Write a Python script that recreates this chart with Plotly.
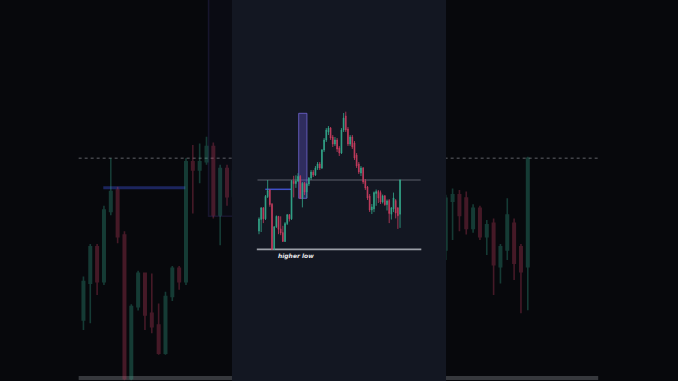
import plotly.graph_objects as go

# ---- data (candle index, OHLC in chart units) ----
idx = list(range(66))
opens = [19.0, 30.6, 42.1, 31.1, 53.2, 60.0, 45.8, 0.5, 23.2, 33.7,
         21.1, 17.4, 8.5, 26.4, 35.3, 31.1, 68.9, 66.3, 68.9, 73.7,
         52.1, 66.8, 58.0, 66.0, 72.0, 78.0, 75.0, 82.0, 86.0, 82.0,
         100.0, 110.0, 118.0, 122.0, 113.0, 106.0, 110.0, 102.0, 97.0, 120.0,
         134.0, 121.0, 106.0, 113.0, 107.0, 95.0, 86.0, 77.0, 82.0, 69.0,
         63.0, 54.0, 40.0, 41.1, 56.5, 58.5, 57.5, 47.9, 54.2, 45.3,
         49.5, 35.8, 41.1, 49.5, 42.1, 35.8]
highs = [32.7, 43.0, 43.0, 55.0, 70.0, 61.0, 47.0, 24.0, 34.5, 34.0,
         33.7, 24.2, 27.9, 36.0, 36.0, 70.0, 74.2, 74.7, 76.8, 75.0,
         68.0, 68.0, 67.0, 73.0, 80.0, 80.0, 84.0, 88.0, 88.0, 101.0,
         112.0, 122.0, 124.0, 123.0, 115.0, 113.0, 112.0, 104.0, 122.0, 137.0,
         138.3, 123.0, 115.0, 115.0, 109.0, 97.0, 88.0, 84.0, 83.0, 71.0,
         64.0, 56.0, 46.0, 58.5, 60.5, 60.0, 59.5, 55.5, 55.0, 50.5,
         51.0, 43.0, 57.4, 51.0, 43.0, 70.5]
lows = [15.8, 18.0, 26.9, 30.0, 52.0, 43.2, 0.0, 0.0, 22.0, 15.8,
        14.8, 8.0, 8.0, 25.0, 28.5, 30.0, 52.6, 62.1, 68.0, 51.0,
        42.6, 55.0, 52.0, 64.0, 70.0, 73.0, 74.0, 80.0, 80.0, 81.0,
        98.0, 108.0, 115.0, 110.0, 103.0, 104.0, 98.0, 94.0, 96.0, 118.0,
        118.0, 104.0, 104.0, 101.0, 90.0, 82.0, 76.0, 74.0, 66.0, 60.0,
        50.0, 38.0, 36.0, 37.9, 44.2, 47.0, 46.0, 46.5, 44.2, 39.5,
        26.9, 30.5, 37.9, 31.6, 21.1, 22.1]
closes = [31.1, 42.1, 31.1, 53.7, 59.5, 45.3, 0.5, 23.2, 33.7, 20.6,
          16.9, 8.5, 26.4, 35.3, 31.1, 68.9, 66.3, 68.9, 73.7, 52.1,
          66.8, 57.9, 66.0, 72.0, 78.0, 75.0, 82.0, 86.0, 82.0, 100.0,
          110.0, 120.0, 122.0, 112.0, 106.0, 110.0, 101.0, 97.0, 120.0, 132.0,
          120.0, 106.0, 113.0, 103.0, 92.0, 84.0, 78.0, 82.0, 68.0, 62.0,
          52.0, 40.0, 43.0, 57.4, 58.5, 52.0, 47.9, 54.2, 45.3, 49.0,
          36.4, 42.1, 52.1, 36.9, 34.2, 70.0]

resistance_level = 70.0
higher_low_level = 0.7
blue_level = 60.7
zone_start, zone_end = 18.3, 22.1
zone_low, zone_high = 51.7, 136.7
line_start, line_end = -0.7, 74.5
blue_start, blue_end = 2.9, 14.9
label_text = "higher low"

GREEN = "#34a88c"
RED = "#c83e60"

fig = go.Figure()

def add_candles(xa, ya, lw, op):
    fig.add_trace(go.Candlestick(
        x=idx, open=opens, high=highs, low=lows, close=closes,
        xaxis=xa, yaxis=ya, opacity=op, whiskerwidth=0,
        increasing=dict(line=dict(color=GREEN, width=lw), fillcolor=GREEN),
        decreasing=dict(line=dict(color=RED, width=lw), fillcolor=RED),
        showlegend=False, hoverinfo="skip"))

# background (zoomed, dimmed) copies
add_candles("x2", "y2", 1.6, 0.32)
add_candles("x3", "y3", 1.6, 0.32)
# main chart
add_candles("x", "y", 0.8, 1.0)

shapes = []
# centre panel
shapes.append(dict(type="rect", xref="paper", yref="paper", x0=232/678, x1=446/678,
                   y0=0, y1=1, fillcolor="#131722", line=dict(width=0), layer="below"))
# background decorations
for xa, ya in (("x2", "y2"), ("x3", "y3")):
    shapes.append(dict(type="line", xref=xa, yref=ya, x0=line_start, x1=line_end + 0.8,
                       y0=resistance_level, y1=resistance_level,
                       line=dict(color="#424348", width=1.5, dash="dot"), layer="below"))
    shapes.append(dict(type="line", xref=xa, yref=ya, x0=line_start, x1=line_end + 0.8,
                       y0=higher_low_level, y1=higher_low_level,
                       line=dict(color="#36383d", width=4), layer="below"))
    shapes.append(dict(type="line", xref=xa, yref=ya, x0=blue_start, x1=blue_end,
                       y0=blue_level, y1=blue_level,
                       line=dict(color="#1c255e", width=3), layer="below"))
    shapes.append(dict(type="rect", xref=xa, yref=ya, x0=zone_start, x1=zone_end,
                       y0=zone_low, y1=zone_high + 200,
                       fillcolor="rgba(60,50,120,0.07)",
                       line=dict(color="rgba(80,70,160,0.22)", width=1.5), layer="below"))
# main decorations
shapes.append(dict(type="line", xref="x", yref="y", x0=line_start, x1=line_end,
                   y0=resistance_level, y1=resistance_level,
                   line=dict(color="#5d616a", width=1), layer="below"))
shapes.append(dict(type="line", xref="x", yref="y", x0=line_start - 0.3, x1=line_end + 0.3,
                   y0=higher_low_level, y1=higher_low_level,
                   line=dict(color="#9a9ea6", width=1.8), layer="below"))
shapes.append(dict(type="line", xref="x", yref="y", x0=blue_start, x1=blue_end,
                   y0=blue_level, y1=blue_level,
                   line=dict(color="#3f50c8", width=1.5), layer="below"))
shapes.append(dict(type="rect", xref="x", yref="y", x0=zone_start, x1=zone_end,
                   y0=zone_low, y1=zone_high,
                   fillcolor="rgba(100,86,205,0.35)",
                   line=dict(color="rgba(118,105,220,0.75)", width=1), layer="below"))

fig.update_layout(
    width=678, height=381, margin=dict(l=0, r=0, t=0, b=0),
    paper_bgcolor="#07080c", plot_bgcolor="rgba(0,0,0,0)",
    boxgap=0.5, showlegend=False, shapes=shapes,
    xaxis=dict(domain=[0, 1], range=[-119.35, 193.09], visible=False,
               rangeslider=dict(visible=False), fixedrange=True),
    yaxis=dict(domain=[0, 1], range=[-131, 250], visible=False, fixedrange=True),
    xaxis2=dict(domain=[0, 232/678], range=[-12.207, 21.731], visible=False,
                anchor="y2", rangeslider=dict(visible=False)),
    yaxis2=dict(domain=[0, 1], range=[-0.25, 119.94], visible=False, anchor="x2"),
    xaxis3=dict(domain=[446/678, 1], range=[53.036, 86.974], visible=False,
                anchor="y3", rangeslider=dict(visible=False)),
    yaxis3=dict(domain=[0, 1], range=[-0.25, 119.94], visible=False, anchor="x3"),
    annotations=[dict(x=8.0, y=higher_low_level, xref="x", yref="y",
                      text="<b><i>" + label_text + "</i></b>", showarrow=False,
                      xanchor="left", yanchor="top", yshift=-1,
                      font=dict(family="DejaVu Sans", size=6, color="#e8e8ea"))],
)

fig.write_html("out.html")
